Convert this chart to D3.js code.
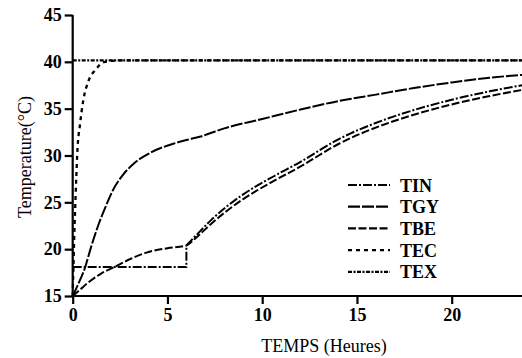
<!DOCTYPE html>
<html><head><meta charset="utf-8">
<script src="https://cdn.jsdelivr.net/npm/d3@7"></script>
<style>
html,body{margin:0;padding:0;background:#fff;}
svg{display:block;}
</style></head>
<body>
<svg id="chart" width="522" height="358"></svg>
<script>
// ---- data ----
const xTicks = [0, 5, 10, 15, 20];
const yTicks = [15, 20, 25, 30, 35, 40, 45];
const seriesNames = ["TIN", "TGY", "TBE", "TEC", "TEX"];

// TIN: constant phase, step at t=6, then rising
const TIN_step = [[0, 18.1], [6, 18.1], [6, 20.4]];
const TIN_rise = [[6, 20.4], [6.5, 21.45], [7.3, 23.1], [9, 25.85], [10.4, 27.55], [12, 29.3], [14, 31.7], [16.7, 34.0], [18, 34.85], [20, 35.95], [22, 36.85], [24, 37.6]];
const TGY = [[0, 15], [0.3, 16.3], [0.63, 17.9], [0.98, 20.3], [1.34, 22.5], [1.77, 24.7], [2.15, 26.4], [2.6, 27.8], [3.2, 29.1], [4.1, 30.3], [5.3, 31.25], [6, 31.65], [6.7, 32.0], [8, 32.9], [10, 33.9], [12, 34.9], [14, 35.8], [16, 36.5], [18, 37.2], [20, 37.8], [22, 38.3], [24, 38.65]];
const TBE = [[0, 15], [0.4, 15.7], [0.8, 16.4], [1.5, 17.4], [2.2, 18.1], [3.1, 19.0], [4, 19.7], [5, 20.1], [6, 20.4], [6.5, 21.2], [7.3, 22.7], [9, 25.35], [10.4, 27.05], [12, 28.8], [14, 31.2], [16.7, 33.5], [18, 34.35], [20, 35.45], [22, 36.35], [24, 37.1]];
const TEC = [[0, 15], [0.05, 19], [0.1, 22.5], [0.15, 25.5], [0.2, 28.2], [0.24, 30.2], [0.39, 33.4], [0.56, 35.9], [0.82, 37.9], [1.18, 39.1], [1.7, 40.0], [2.5, 40.15], [24, 40.15]];
const TEX = [[0, 40.15], [24, 40.15]];

const FONT = "'Liberation Serif', 'Times New Roman', Tinos, 'DejaVu Serif', serif";

// ---- layout ----
const svg = d3.select("#chart");
const x = d3.scaleLinear().domain([0, 24]).range([72.7, 72.7 + 24 * 18.95]);
const y = d3.scaleLinear().domain([15, 45]).range([296, 15]);

const dashes = {
  TIN: "9,2,2,2",
  TGY: "12,2",
  TBE: "8,2.5",
  TEC: "4,4",
  TEX: "4,1.5,2,1.5"
};

const smooth = d3.line().x(d => x(d[0])).y(d => y(d[1])).curve(d3.curveMonotoneX);
const straight = d3.line().x(d => x(d[0])).y(d => y(d[1]));

const plot = svg.append("g");
function draw(data, gen, name, w) {
  plot.append("path").datum(data).attr("d", gen)
    .attr("fill", "none").attr("stroke", "#000")
    .attr("stroke-width", w || 2).attr("stroke-dasharray", dashes[name]);
}
draw(TEX, straight, "TEX", 2.3);
draw(TEC, smooth, "TEC", 2.3);
draw(TGY, smooth, "TGY");
draw(TBE, smooth, "TBE");
draw(TIN_step, straight, "TIN");
draw(TIN_rise, smooth, "TIN");

// ---- axes ----
const xAxis = d3.axisBottom(x).tickValues(xTicks).tickSize(8).tickPadding(4).tickSizeOuter(0);
const gx = svg.append("g").attr("transform", "translate(0,296)").call(xAxis);
const yAxis = d3.axisLeft(y).tickValues(yTicks).tickSize(8).tickPadding(3).tickSizeOuter(0);
const gy = svg.append("g").attr("transform", "translate(72.7,0)").call(yAxis);
[gx, gy].forEach(g => {
  g.attr("font-family", null).attr("font-size", null);
  g.select(".domain").attr("stroke", "#000").attr("stroke-width", 2.2);
  g.selectAll(".tick line").attr("stroke", "#000").attr("stroke-width", 2.2);
  g.selectAll(".tick text").style("font-family", FONT)
    .style("font-size", "18px").style("font-weight", "bold").attr("fill", "#000");
});
gx.select(".domain").attr("d", "M72.7,0H530");
gy.select(".domain").attr("d", "M0,296V15");

// axis titles
svg.append("text").attr("x", 324).attr("y", 352).attr("text-anchor", "middle")
  .style("font-family", FONT).style("font-size", "18px").text("TEMPS (Heures)");
svg.append("text").attr("transform", "translate(31,157) rotate(-90)")
  .attr("text-anchor", "middle").style("font-family", FONT).style("font-size", "18px").text("Temperature(°C)");

// ---- legend ----
const legend = svg.append("g");
seriesNames.forEach((n, i) => {
  const yy = 185 + i * 21.7;
  legend.append("line").attr("x1", 348).attr("x2", 390).attr("y1", yy).attr("y2", yy)
    .attr("stroke", "#000").attr("stroke-width", 2.2).attr("stroke-dasharray", dashes[n]);
  legend.append("text").attr("x", 400).attr("y", yy + 6.5)
    .style("font-family", FONT).style("font-size", "18px").style("font-weight", "bold").text(n);
});
</script>
</body></html>
